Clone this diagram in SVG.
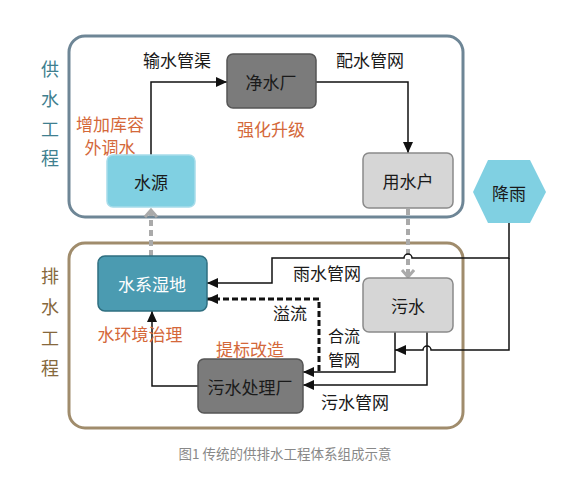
<svg xmlns="http://www.w3.org/2000/svg" width="566" height="478" viewBox="0 0 566 478">
<style>
text{font-family:"Noto Sans CJK SC","Noto Sans CJK JP",sans-serif;}
.t{font-size:17px;fill:#1a1a1a;text-anchor:middle;dominant-baseline:central;}
.o{font-size:17px;fill:#d4683a;text-anchor:middle;dominant-baseline:central;}
.sideA{font-size:18px;fill:#3f7f8f;text-anchor:middle;dominant-baseline:central;}
.sideB{font-size:18px;fill:#86683c;text-anchor:middle;dominant-baseline:central;}
.ln{fill:none;stroke:#111;stroke-width:1.5;}
.dl{fill:none;stroke:#111;stroke-width:3;stroke-dasharray:6 3;}
.gl{fill:none;stroke:#aaaaaa;stroke-width:4;stroke-dasharray:6 4;}
</style>
<defs>
<marker id="ah" markerUnits="userSpaceOnUse" markerWidth="12" markerHeight="12" refX="11" refY="5" orient="auto">
<path d="M0,0 L11,5 L0,10 z" fill="#111"/>
</marker>
<marker id="ch" markerUnits="userSpaceOnUse" markerWidth="14" markerHeight="16" refX="8" refY="7" orient="auto">
<path d="M1,1 L8,7 L1,13" fill="none" stroke="#aaaaaa" stroke-width="3"/>
</marker>
</defs>
<rect width="566" height="478" fill="#ffffff"/>
<rect x="69" y="36" width="394" height="181" rx="16" fill="#fff" stroke="#6e8696" stroke-width="3"/>
<rect x="69" y="243" width="394" height="185" rx="16" fill="#fff" stroke="#a08c6c" stroke-width="3"/>
<g id="side-labels">
<text class="sideA" x="50" y="68">供</text>
<text class="sideA" x="50" y="98">水</text>
<text class="sideA" x="50" y="128">工</text>
<text class="sideA" x="50" y="157">程</text>
<text class="sideB" x="50" y="275">排</text>
<text class="sideB" x="50" y="306">水</text>
<text class="sideB" x="50" y="337">工</text>
<text class="sideB" x="50" y="367">程</text>
</g>
<g id="connectors">
<path class="ln" d="M151 155 V82 H227" marker-end="url(#ah)"/>
<path class="ln" d="M316 82 H408 V153" marker-end="url(#ah)"/>
<path class="gl" d="M151 256 V210" marker-end="url(#ch)"/>
<path class="gl" d="M408 209 V277" marker-end="url(#ch)"/>
<path class="ln" d="M509 223 V258 H412 A4 4 0 0 0 404 258 H272 V283 H207" marker-end="url(#ah)"/>
<path class="ln" d="M509 258 V350 H431 A4 4 0 0 0 423 350 H395" marker-end="url(#ah)"/>
<path class="ln" d="M395 332 V372 H303" marker-end="url(#ah)"/>
<path class="ln" d="M427 332 V385 H303" marker-end="url(#ah)"/>
<path class="dl" d="M319 371 V299 H207" marker-end="url(#ah)"/>
<path class="ln" d="M198 386 H152 V311" marker-end="url(#ah)"/>
</g>
<g id="labels">
<text class="t" x="177" y="59">输水管渠</text>
<text class="t" x="370" y="59">配水管网</text>
<text class="o" x="110" y="123">增加库容</text>
<text class="o" x="110" y="146">外调水</text>
<text class="o" x="271" y="128">强化升级</text>
<text class="t" x="327" y="272">雨水管网</text>
<text class="t" x="290" y="312">溢流</text>
<text class="t" x="344" y="335" style="font-size:16px">合流</text>
<text class="t" x="344" y="359" style="font-size:16px">管网</text>
<text class="t" x="355" y="401">污水管网</text>
<text class="o" x="140" y="333">水环境治理</text>
<text class="o" x="250" y="348">提标改造</text>
</g>
<g id="n-shuiyuan">
<rect x="107" y="155" width="88" height="52" rx="6" fill="#80d0e2" stroke="#a6dcea" stroke-width="1.5"/>
<text class="t" x="151" y="181">水源</text>
</g>
<g id="n-jingshuichang">
<rect x="227" y="54" width="89" height="54" rx="6" fill="#7b7b7b" stroke="#555" stroke-width="1.5"/>
<text class="t" x="271" y="81">净水厂</text>
</g>
<g id="n-yongshuihu">
<rect x="363" y="153" width="90" height="55" rx="6" fill="#d6d6d6" stroke="#8a8a8a" stroke-width="1.5"/>
<text class="t" x="408" y="180">用水户</text>
</g>
<g id="n-jiangyu">
<polygon points="488,160 530,160 546,192 530,223 488,223 473,192" fill="#80d0e2"/>
<text class="t" x="509" y="192">降雨</text>
</g>
<g id="n-shuixishidi">
<rect x="98" y="256" width="109" height="55" rx="7" fill="#4b9bb1" stroke="#2f6f80" stroke-width="1.5"/>
<text class="t" x="152" y="283" style="fill:#ffffff">水系湿地</text>
</g>
<g id="n-wushui">
<rect x="363" y="278" width="90" height="54" rx="6" fill="#d6d6d6" stroke="#8a8a8a" stroke-width="1.5"/>
<text class="t" x="408" y="305">污水</text>
</g>
<g id="n-wushuichulichang">
<rect x="198" y="359" width="105" height="54" rx="6" fill="#7b7b7b" stroke="#555" stroke-width="1.5"/>
<text class="t" x="250" y="386">污水处理厂</text>
</g>
<text x="285" y="453" style="font-size:13.5px;fill:#888;text-anchor:middle;dominant-baseline:central">图1 传统的供排水工程体系组成示意</text>
</svg>
